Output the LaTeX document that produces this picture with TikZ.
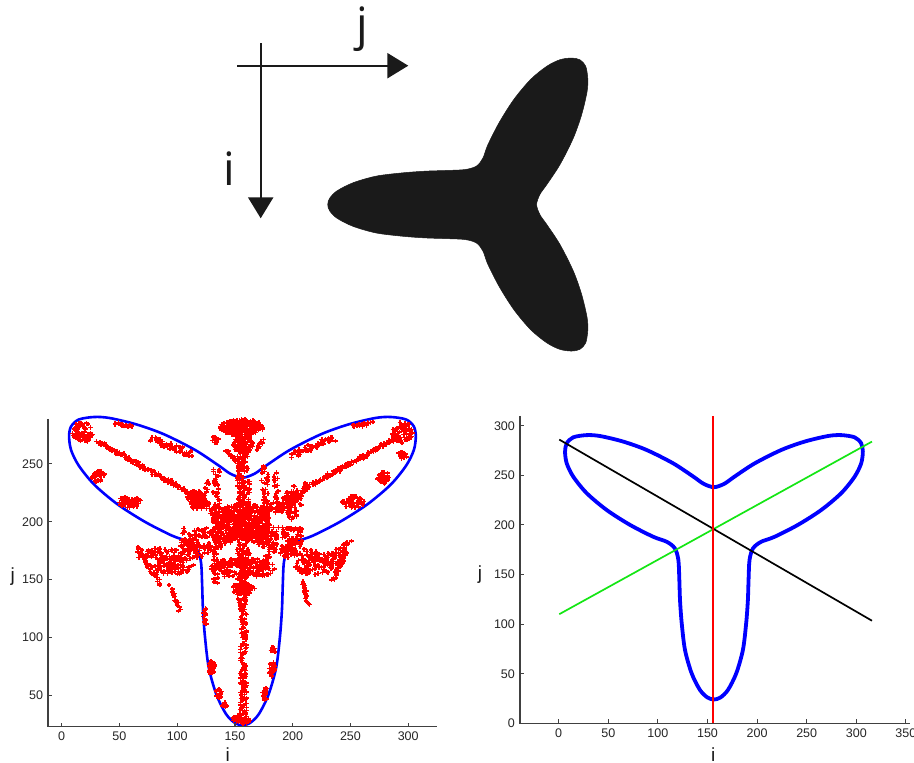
\documentclass[tikz,border=0pt]{standalone}
\usepackage{fontspec}
\setmainfont{Liberation Sans}
\newfontfamily\bigsans{Open Sans}
\usetikzlibrary{arrows.meta}
\definecolor{mblue}{RGB}{0,0,255}
\definecolor{mred}{RGB}{255,0,0}
\definecolor{mgreen}{RGB}{20,230,20}
\definecolor{silh}{RGB}{26,26,26}
% the trefoil outline in (i,j) data units
\newcommand\trefoil[1]{\draw[#1] plot[smooth cycle,tension=0.5] coordinates {
 (156.5,238) (146,241.5) (136,248.5) (115.5,262) (88.7,275.5) (65,284) (41.6,289.6) (28,290.5)
 (14.7,288.3) (8.1,282.3) (6.4,273.8) (8.1,262) (14.7,248.6) (28.2,232) (48.4,215) (71.9,200)
 (95.4,188) (108.9,183) (117,176.5) (120.6,165) (121.6,145) (122.3,124) (124,101) (127.3,74)
 (134,50.4) (142.4,33.6) (150,26) (156.5,24)
 (163,26) (170.6,33.6) (179,50.4) (185.7,74) (189,101) (190.7,124) (191.4,145) (192.4,165)
 (196,176.5) (204.1,183) (217.6,188) (241.1,200) (264.6,215) (284.8,232) (298.3,248.6) (304.9,262)
 (306.6,273.8) (304.9,282.3) (298.3,288.3) (285,290.5) (271.4,289.6) (248,284) (224.3,275.5)
 (197.5,262) (177,248.5) (167,241.5)};}
\newcommand\rplus[2]{\draw[redmark] (#1-2,#2) -- (#1+2,#2) (#1,#2-2) -- (#1,#2+2);}
\newcommand\rseg[6]{\foreach \kk in {0,...,#5}{%
  \pgfmathsetmacro\rfr{\kk/#5}%
  \pgfmathsetmacro\rxx{#1+(#3-#1)*\rfr+#6*rand}%
  \pgfmathsetmacro\ryy{#2+(#4-#2)*\rfr+#6*rand}%
  \rplus{\rxx}{\ryy}}}
\newcommand\rblob[5]{\foreach \kk in {1,...,#5}{%
  \pgfmathsetmacro\rang{360*rnd}%
  \pgfmathsetmacro\rrad{sqrt(rnd)}%
  \pgfmathsetmacro\rxx{#1+#3*\rrad*cos(\rang)}%
  \pgfmathsetmacro\ryy{#2+#4*\rrad*sin(\rang)}%
  \rplus{\rxx}{\ryy}}}
\begin{document}
\begin{tikzpicture}[x=1pt,y=-1pt,
  axline/.style={draw=black!75,line width=1.1pt},
  ticklab/.style={font=\fontsize{12.5}{14}\selectfont,inner sep=0pt,text=black!85},
  axlab/.style={font=\fontsize{19}{22}\selectfont,inner sep=0pt,text=black!90},
  biglab/.style={font=\bigsans\fontsize{46}{50}\selectfont,inner sep=0pt,text=silh},
  dirarrow/.style={draw=silh,line width=2.4pt,-{Triangle[length=21pt,width=25pt]}},
  redmark/.style={draw=mred,line width=1.5pt},
  guideline/.style={line width=1.7pt}]
\useasboundingbox[fill=white] (0,0) rectangle (914,763);
\pgfmathsetseed{12345}
% ---------------- top: silhouette and axes directions
\coordinate (hs) at (237,65.7);
\coordinate (he) at (408.3,65.7);
\coordinate (vs) at (260.7,43.3);
\coordinate (ve) at (260.7,218.3);
\draw[dirarrow] (hs) -- (he);
\draw[dirarrow] (vs) -- (ve);
\node[biglab,anchor=north] (jtop) at (362,6.7) {j};
\node[biglab,anchor=north] (itop) at (229,151.7) {i};
\begin{scope}[shift={(304.3,51.8)},x={(0pt,-0.976pt)},y={(0.976pt,0pt)}]
  \trefoil{fill=silh,draw=silh,line width=0.5pt}
\end{scope}
% ---------------- bottom left plot
\begin{scope}[shift={(61.7,753.1)},x=1.155pt,y=1.157pt]
  \trefoil{draw=mblue,line width=2.6pt}
  % spine
  \rseg{157.3}{26}{157.3}{135}{130}{2.8}
  \rseg{157.3}{135}{157.3}{240}{220}{5.5}
  \rseg{157}{240}{157}{274}{70}{5}
  \rblob{156}{281.5}{19}{7}{230}
  \rblob{157}{266}{9}{8}{70}
  \rblob{133}{271}{3}{3}{12}
  \rseg{143}{262}{150}{252}{10}{1.2}
  \rseg{174}{271}{169}{262}{9}{1.2}
  % vertical strips
  \rseg{134}{246}{133}{146}{80}{3}
  \rseg{176}{246}{177}{166}{65}{3}
  \rseg{185}{242}{187}{212}{20}{2}
  \rseg{126}{236}{124}{212}{16}{2}
  % horizontal band and central mass
  \rseg{108}{190}{206}{190}{160}{5}
  \rblob{157}{200}{24}{16}{280}
  \rblob{157}{160}{28}{9}{160}
  \rblob{157}{142}{10}{5}{50}
  % diagonals into the lobes
  \rseg{155}{197}{112}{221}{70}{4.5}
  \rseg{112}{224}{31}{269}{110}{1.6}
  \rblob{116}{219}{8}{8}{60}
  \rseg{159}{197}{204}{222}{70}{4.5}
  \rseg{209}{227}{290}{273}{110}{1.6}
  \rseg{207}{221}{211}{234}{10}{0.8}
  \rblob{200}{216}{8}{15}{80}
  % lower left branches
  \rseg{150}{188}{118}{173}{55}{4.5}
  \rseg{118}{173}{70}{172}{70}{5}
  \rblob{97}{162}{17}{8}{80}
  \rseg{66}{178}{84}{147}{35}{2}
  \rseg{94}{144}{102}{124}{22}{1.5}
  % lower right branches
  \rseg{164}{188}{196}{173}{55}{4.5}
  \rseg{196}{173}{244}{168}{70}{5}
  \rblob{219}{162}{17}{8}{80}
  \rseg{248}{181}{235}{150}{35}{2}
  \rseg{209}{147}{213}{128}{22}{1.5}
  \rseg{226}{166}{250}{184}{14}{1}
  % left lobe
  \rseg{78}{272}{112}{258}{55}{2.5}
  \rseg{45}{285}{62}{282}{16}{1.5}
  \rblob{18}{277}{9}{9}{65}
  \rblob{32}{239}{6}{5}{30}
  \rblob{59}{217}{10}{5}{50}
  \rblob{110}{181}{9}{5}{35}
  % right lobe
  \rseg{201}{258}{235}{272}{55}{2.5}
  \rseg{251}{282}{268}{285}{16}{1.5}
  \rblob{295}{277}{9}{9}{65}
  \rblob{295}{257}{4}{4}{20}
  \rblob{279}{238}{6}{5}{30}
  \rblob{252}{217}{10}{5}{50}
  \rblob{201}{181}{8}{5}{35}
  % bottom lobe
  \rblob{124}{118}{2}{8}{16}
  \rblob{130}{73}{3}{7}{28}
  \rblob{136}{52}{2.5}{5}{16}
  \rblob{141}{42}{2}{3}{8}
  \rblob{182}{73}{3}{7}{28}
  \rblob{176}{51}{2}{6}{16}
  \rblob{183}{89}{2}{3}{7}
  \rblob{156}{29}{8}{4}{35}
  % axes
  \coordinate (la-top) at (-11.9,288.8);
  \coordinate (la-org) at (-11.9,22.8);
  \coordinate (la-end) at (324.7,22.8);
  \draw[axline] (la-top) -- (la-org) -- (la-end);
  \foreach \t in {0,50,...,300}{
    \draw[axline] (\t,22.8) -- (\t,26.3);
    \node[ticklab,anchor=north] (lxt\t) at (\t,18.5) {\t};}
  \foreach \t in {50,100,...,250}{
    \draw[axline] (-11.9,\t) -- (-8.4,\t);
    \node[ticklab,anchor=east] (lyt\t) at (-16,\t) {\t};}
\end{scope}
\node[axlab] (ljlab) at (12.7,577) {j};
\node[axlab,anchor=north] (lilab) at (227.7,747.5) {i};
% ---------------- bottom right plot
\begin{scope}[shift={(558.7,723.3)},x=0.992pt,y=0.992pt]
  \trefoil{draw=mblue,line width=3.8pt}
  \coordinate (gr1) at (0.6,110);
  \coordinate (gr2) at (315.8,284);
  \coordinate (bk1) at (0.6,286);
  \coordinate (bk2) at (315.8,103.4);
  \coordinate (rd1) at (155.7,0);
  \coordinate (rd2) at (155.7,309.8);
  \draw[guideline,draw=mgreen] (gr1) -- (gr2);
  \draw[guideline,draw=black] (bk1) -- (bk2);
  \draw[guideline,draw=mred,line width=2pt] (rd1) -- (rd2);
  \coordinate (ra-top) at (-39,309.8);
  \coordinate (ra-org) at (-39,0);
  \coordinate (ra-end) at (354,0);
  \draw[axline] (ra-top) -- (ra-org) -- (ra-end);
  \foreach \t in {0,50,...,350}{
    \draw[axline] (\t,0) -- (\t,4);
    \node[ticklab,anchor=north] (rxt\t) at (\t,-5) {\t};}
  \foreach \t in {0,50,...,300}{
    \draw[axline] (-39,\t) -- (-35,\t);
    \node[ticklab,anchor=east] (ryt\t) at (-44,\t) {\t};}
\end{scope}
\node[axlab] (rjlab) at (480,575) {j};
\node[axlab,anchor=north] (rilab) at (713.3,747.5) {i};
\end{tikzpicture}
\end{document}
